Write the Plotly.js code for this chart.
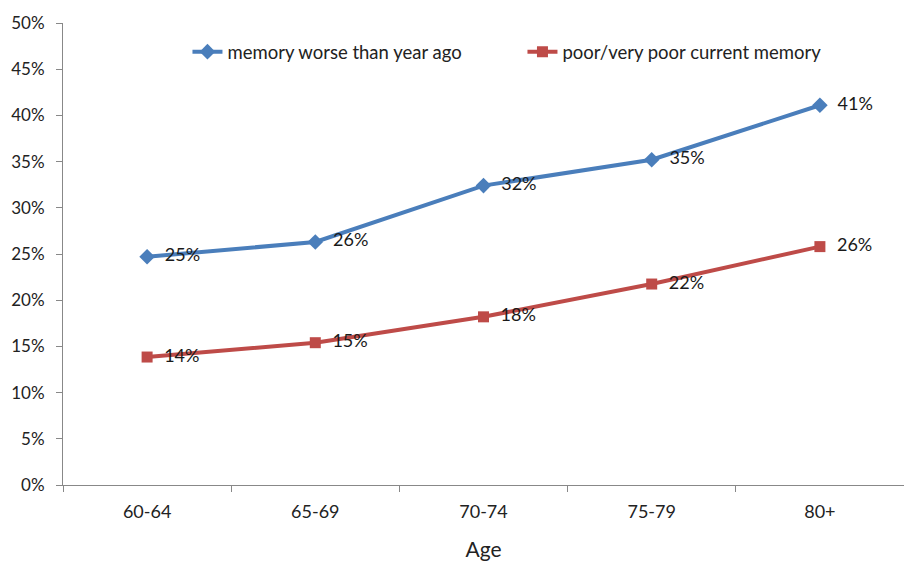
<!DOCTYPE html>
<html>
<head>
<meta charset="utf-8">
<script src="https://cdn.plot.ly/plotly-3.0.1.min.js"></script>
<style>html,body{margin:0;padding:0;background:#fff;}</style>
</head>
<body>
<div id="chart" style="width:904px;height:561px;"></div>
<script>
const ageGroups = ["60-64", "65-69", "70-74", "75-79", "80+"];
const memoryWorse = [24.7, 26.3, 32.4, 35.2, 41.1];
const poorMemory = [13.85, 15.4, 18.2, 21.75, 25.8];
const seriesNames = ["memory worse than year ago", "poor/very poor current memory"];
const yTickVals = [0, 5, 10, 15, 20, 25, 30, 35, 40, 45, 50];

const fmt = v => "  " + Math.round(v) + "%";
const font = "Lato, 'Open Sans', sans-serif";

const traces = [
  {
    x: ageGroups, y: memoryWorse, name: seriesNames[0],
    type: "scatter", mode: "lines+markers+text",
    line: {color: "#4A7EBB", width: 4},
    marker: {symbol: "diamond", size: 12, color: "#4A7EBB"},
    text: memoryWorse.map(fmt), textposition: "middle right",
    textfont: {family: font, size: 18, color: "#1a1a1a"},
    cliponaxis: false
  },
  {
    x: ageGroups, y: poorMemory, name: seriesNames[1],
    type: "scatter", mode: "lines+markers+text",
    line: {color: "#BE4B48", width: 4},
    marker: {symbol: "square", size: 11, color: "#BE4B48"},
    text: poorMemory.map(fmt), textposition: "middle right",
    textfont: {family: font, size: 18, color: "#1a1a1a"},
    cliponaxis: false
  }
];

const layout = {
  width: 904, height: 561,
  margin: {l: 63, r: 0, t: 23, b: 76},
  paper_bgcolor: "#fff", plot_bgcolor: "#fff",
  font: {family: font, size: 17, color: "#222"},
  showlegend: true,
  legend: {
    orientation: "h", x: 0.148, y: 0.937, xanchor: "left", yanchor: "middle",
    font: {family: font, size: 18.5, color: "#222"},
    itemwidth: 30, bgcolor: "rgba(0,0,0,0)",
    entrywidth: 290
  },
  xaxis: {
    type: "category", range: [-0.5, 4.5],
    showline: true, linecolor: "#888", linewidth: 1,
    ticks: "outside", tickson: "boundaries", ticklen: 6, tickcolor: "#888",
    ticklabelstandoff: 10,
    showgrid: false, zeroline: false,
    tickfont: {family: font, size: 18, color: "#222"},
    title: {text: "Age", font: {family: font, size: 21, color: "#222"}, standoff: 22}
  },
  yaxis: {
    range: [0, 50], tickvals: yTickVals, ticktext: yTickVals.map(v => v + "%"),
    showline: true, linecolor: "#888", linewidth: 1,
    ticks: "outside", ticklen: 6, tickcolor: "#888",
    ticklabelstandoff: 8,
    showgrid: false, zeroline: false,
    tickfont: {family: font, size: 17, color: "#222"}
  }
};

Plotly.newPlot("chart", traces, layout, {displayModeBar: false, staticPlot: true});
</script>
</body>
</html>
